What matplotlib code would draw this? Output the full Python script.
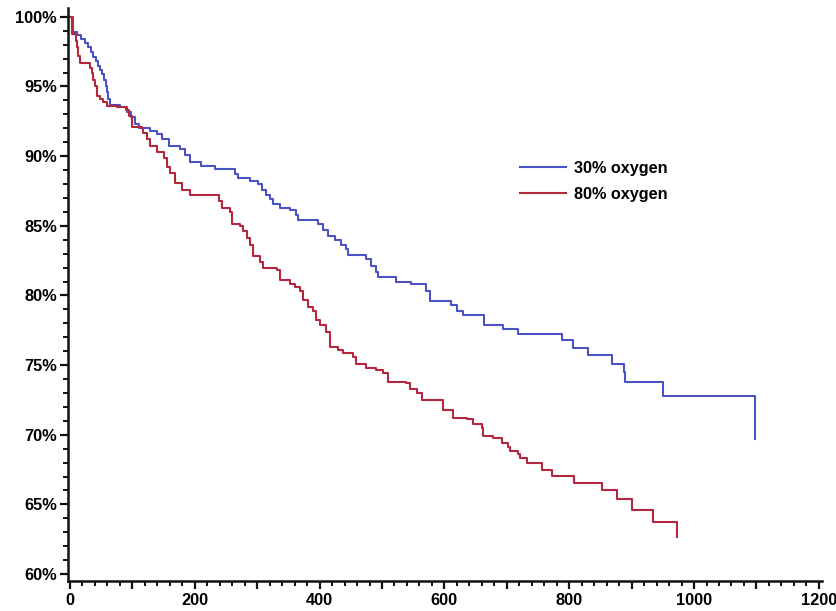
import matplotlib
matplotlib.use("Agg")
import matplotlib.pyplot as plt
from matplotlib.ticker import MultipleLocator, FixedLocator, FuncFormatter

# Kaplan-Meier style survival estimates (days, % surviving)
days_30 = [0, 5, 12, 18, 24, 29, 33, 37, 41, 45, 48, 51, 54, 57, 59, 61, 64,
           80, 92, 98, 104, 110, 128, 140, 148, 158, 176, 184, 192, 210, 232,
           264, 270, 288, 302, 308, 314, 320, 326, 336, 352, 362, 366, 398,
           406, 414, 424, 434, 442, 446, 474, 482, 490, 494, 522, 546, 570,
           577, 610, 620, 630, 664, 694, 718, 788, 806, 830, 868, 887, 890,
           951, 1098]
surv_30 = [100, 98.9, 98.7, 98.4, 98.1, 97.8, 97.5, 97.1, 96.8, 96.5, 96.2,
           95.9, 95.5, 95.0, 94.6, 94.1, 93.7, 93.5, 93.2, 92.8, 92.3, 92.0,
           91.8, 91.6, 91.2, 90.7, 90.5, 90.1, 89.6, 89.3, 89.06, 88.7, 88.4,
           88.2, 88.0, 87.6, 87.2, 86.9, 86.6, 86.3, 86.1, 85.8, 85.4, 85.1,
           84.7, 84.3, 84.0, 83.6, 83.3, 82.9, 82.6, 82.1, 81.7, 81.3, 81.0,
           80.8, 80.3, 79.6, 79.3, 78.9, 78.6, 77.9, 77.6, 77.2, 76.8, 76.2,
           75.7, 75.1, 74.5, 73.8, 72.8, 69.7]

days_80 = [0, 3, 9, 11, 13, 16, 32, 35, 37, 40, 43, 48, 53, 59, 76, 90, 95,
           99, 115, 117, 123, 128, 139, 150, 155, 160, 168, 179, 192, 238,
           243, 256, 259, 272, 278, 284, 288, 294, 304, 310, 331, 337, 353,
           361, 369, 374, 382, 390, 395, 401, 411, 417, 430, 438, 454, 459,
           475, 491, 502, 510, 539, 545, 556, 564, 598, 614, 636, 646, 660,
           662, 678, 692, 702, 705, 718, 721, 732, 756, 772, 807, 852, 876,
           900, 935, 972]
surv_80 = [100, 98.8, 98.3, 97.8, 97.2, 96.7, 96.3, 96.0, 95.5, 95.0, 94.3,
           94.1, 93.9, 93.6, 93.5, 93.3, 92.9, 92.1, 92.0, 91.65, 91.2, 90.7,
           90.3, 89.85, 89.25, 88.8, 88.1, 87.6, 87.2, 86.8, 86.3, 86.0, 85.1,
           84.95, 84.6, 84.1, 83.6, 82.8, 82.4, 81.95, 81.8, 81.1, 80.8, 80.6,
           80.3, 79.7, 79.2, 78.85, 78.25, 77.9, 77.4, 76.3, 76.1, 75.85,
           75.6, 75.1, 74.8, 74.66, 74.4, 73.8, 73.7, 73.3, 73.0, 72.5, 71.8,
           71.2, 71.1, 70.8, 70.5, 69.9, 69.75, 69.4, 69.15, 68.8, 68.6, 68.3,
           67.95, 67.5, 67.05, 66.5, 66.0, 65.4, 64.6, 63.7, 62.65]

series_labels = ["30% oxygen", "80% oxygen"]
x_tick_labels = [0, 200, 400, 600, 800, 1000, 1200]
y_tick_values = [60, 65, 70, 75, 80, 85, 90, 95, 100]

plt.rcParams["font.family"] = ["Liberation Sans", "DejaVu Sans"]
plt.rcParams["font.weight"] = "bold"

fig = plt.figure(figsize=(8.36, 6.11), dpi=100)
ax = fig.add_axes([0.0815, 0.0491, 0.9017, 0.937])

blue = "#4a52c4"
red = "#b3283e"
ax.step(days_30, surv_30, where="post", color=blue, lw=1.5,
        label=series_labels[0])
ax.step(days_80, surv_80, where="post", color=red, lw=1.5,
        label=series_labels[1])

ax.set_xlim(-3, 1205)
ax.set_ylim(59.5, 100.6)

for side in ("top", "right"):
    ax.spines[side].set_visible(False)
for side in ("left", "bottom"):
    ax.spines[side].set_linewidth(1.8)
    ax.spines[side].set_color("#111111")

# x axis: labels every 200, major marks every 100, minor every 20
ax.xaxis.set_major_locator(MultipleLocator(100))
ax.xaxis.set_minor_locator(MultipleLocator(20))
ax.xaxis.set_major_formatter(
    FuncFormatter(lambda v, p: f"{int(v)}" if int(round(v)) in x_tick_labels else ""))
ax.yaxis.set_major_locator(FixedLocator(y_tick_values))
ax.yaxis.set_minor_locator(MultipleLocator(1))
ax.yaxis.set_major_formatter(FuncFormatter(lambda v, p: f"{int(v)}%"))

ax.tick_params(axis="both", which="major", direction="out", length=6,
               width=1.6, color="#111111", labelsize=11.8, pad=2)
ax.tick_params(axis="x", which="major", pad=3)
ax.tick_params(axis="both", which="minor", direction="out", length=3.5,
               width=1.4, color="#111111")
for lab in ax.get_xticklabels() + ax.get_yticklabels():
    lab.set_fontweight("bold")

leg = ax.legend(loc="upper left", bbox_to_anchor=(0.622, 0.737),
                bbox_transform=fig.transFigure, frameon=False,
                handlelength=2.85, handletextpad=0.5, labelspacing=0.7,
                borderpad=0, borderaxespad=0,
                prop={"weight": "bold", "size": 11.7})

fig.savefig("out.png", dpi=100, facecolor="white")
